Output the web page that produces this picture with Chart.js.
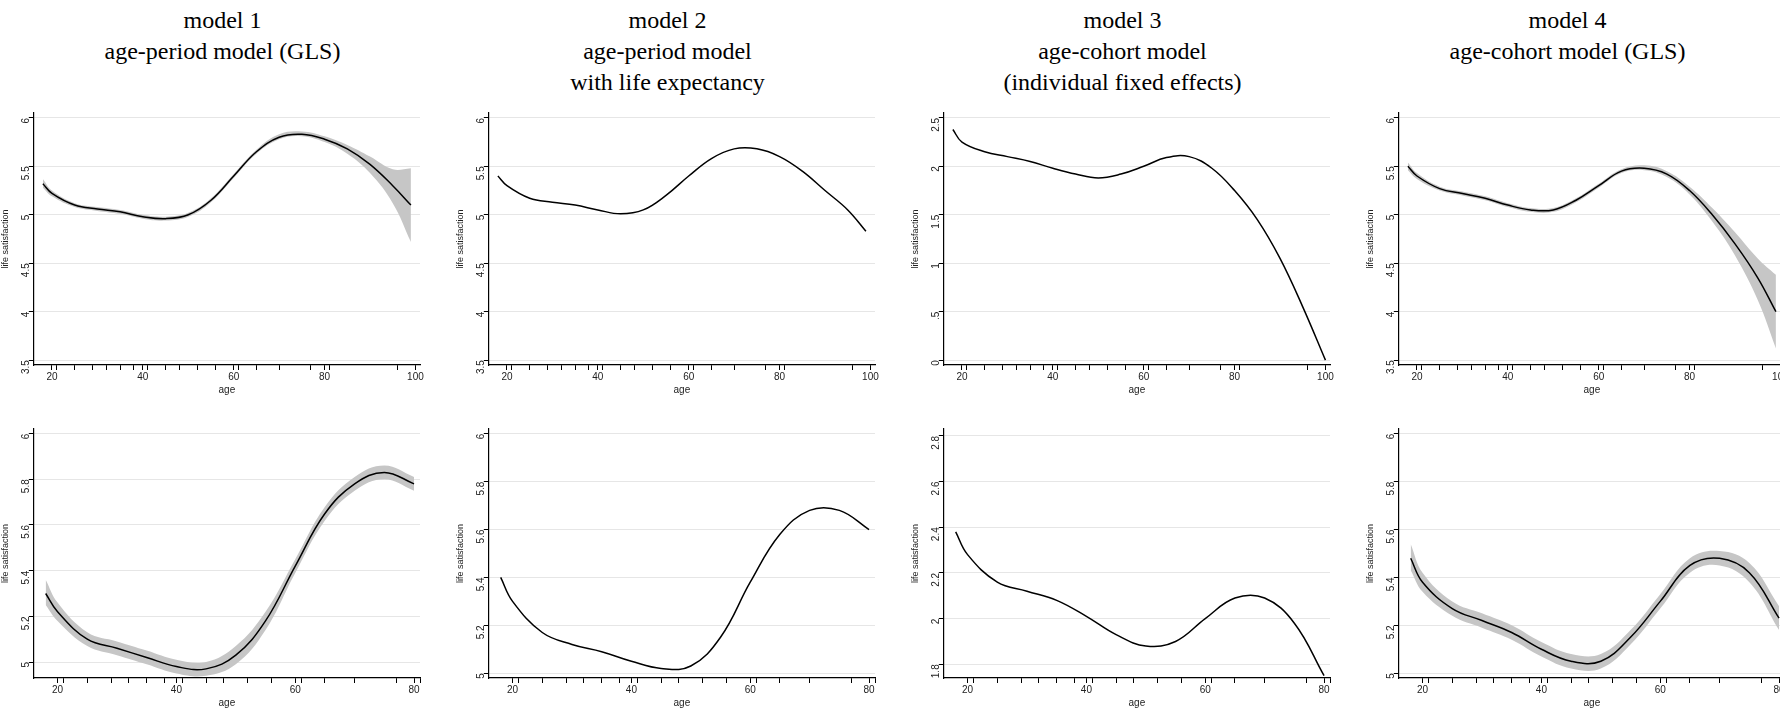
<!DOCTYPE html>
<html><head><meta charset="utf-8">
<script src="https://cdn.jsdelivr.net/npm/chart.js@4/dist/chart.umd.min.js"></script>
<style>
body{margin:0;background:#fff;width:1780px;height:709px;position:relative;overflow:hidden}
.title{position:absolute;top:5px;width:445px;text-align:center;font-family:"Liberation Serif",serif;font-size:24px;line-height:31px;color:#000}
.box{position:absolute;width:445px}
</style></head><body>
<div class="title" style="left:0">model 1<br>age-period model (GLS)</div>
<div class="title" style="left:445px">model 2<br>age-period model<br>with life expectancy</div>
<div class="title" style="left:900px">model 3<br>age-cohort model<br>(individual fixed effects)</div>
<div class="title" style="left:1345px">model 4<br>age-cohort model (GLS)</div>
<div class="box" style="left:0;top:104px;height:292px"><canvas id="c1"></canvas></div>
<div class="box" style="left:455px;top:104px;height:292px"><canvas id="c2"></canvas></div>
<div class="box" style="left:910px;top:104px;height:292px"><canvas id="c3"></canvas></div>
<div class="box" style="left:1365px;top:104px;height:292px"><canvas id="c4"></canvas></div>
<div class="box" style="left:0;top:420px;height:289px"><canvas id="c5"></canvas></div>
<div class="box" style="left:455px;top:420px;height:289px"><canvas id="c6"></canvas></div>
<div class="box" style="left:910px;top:420px;height:289px"><canvas id="c7"></canvas></div>
<div class="box" style="left:1365px;top:420px;height:289px"><canvas id="c8"></canvas></div>
<script>
// ages
const agesLong = [18, 20, 25, 30, 35, 40, 45, 50, 55, 60, 65, 70, 75, 80, 85, 90, 95, 99];
const agesLong3 = [18, 20, 25, 30, 35, 40, 45, 50, 55, 60, 65, 70, 75, 80, 85, 90, 95, 100];
const agesShort = [18, 20, 25, 30, 35, 40, 45, 50, 55, 60, 65, 70, 75, 80];
const labelAges = [20, 40, 60, 80, 100];
const rugAges = [21, 25, 29, 32, 35, 38, 41, 45, 48, 52, 56, 61, 65, 70, 77, 81, 96];

// top row
const m1Top = [5.32, 5.22, 5.1, 5.06, 5.03, 4.98, 4.96, 5.0, 5.15, 5.4, 5.65, 5.8, 5.83, 5.78, 5.68, 5.52, 5.3, 5.1];
const m1TopLo = [5.28, 5.19, 5.08, 5.04, 5.01, 4.96, 4.94, 4.98, 5.13, 5.38, 5.63, 5.78, 5.81, 5.75, 5.63, 5.43, 5.12, 4.72];
const m1TopHi = [5.37, 5.25, 5.12, 5.08, 5.05, 5.0, 4.98, 5.02, 5.17, 5.42, 5.67, 5.83, 5.86, 5.81, 5.72, 5.6, 5.47, 5.48];
const m2Top = [5.4, 5.3, 5.17, 5.13, 5.1, 5.05, 5.01, 5.05, 5.2, 5.4, 5.58, 5.68, 5.68, 5.6, 5.45, 5.25, 5.05, 4.83];
const m3Top = [2.38, 2.25, 2.15, 2.1, 2.05, 1.98, 1.92, 1.88, 1.92, 2.0, 2.09, 2.1, 1.98, 1.75, 1.45, 1.05, 0.55, 0];
const m4Top = [5.5, 5.4, 5.27, 5.22, 5.17, 5.1, 5.05, 5.05, 5.15, 5.3, 5.45, 5.48, 5.42, 5.25, 5.0, 4.7, 4.35, 4.0];
const m4TopLo = [5.46, 5.37, 5.25, 5.2, 5.15, 5.08, 5.03, 5.03, 5.13, 5.28, 5.43, 5.46, 5.39, 5.21, 4.93, 4.58, 4.12, 3.62];
const m4TopHi = [5.54, 5.43, 5.29, 5.24, 5.19, 5.12, 5.07, 5.07, 5.17, 5.32, 5.47, 5.51, 5.45, 5.29, 5.07, 4.82, 4.55, 4.38];

// bottom row
const m1Bot = [5.3, 5.22, 5.1, 5.06, 5.02, 4.98, 4.97, 5.03, 5.18, 5.42, 5.65, 5.78, 5.83, 5.78];
const m1BotLo = [5.25, 5.18, 5.07, 5.03, 4.99, 4.95, 4.94, 4.99, 5.14, 5.39, 5.62, 5.75, 5.8, 5.75];
const m1BotHi = [5.36, 5.26, 5.13, 5.09, 5.05, 5.01, 5.0, 5.07, 5.22, 5.45, 5.68, 5.81, 5.86, 5.81];
const m2Bot = [5.4, 5.3, 5.17, 5.12, 5.09, 5.05, 5.02, 5.03, 5.15, 5.38, 5.58, 5.68, 5.68, 5.6];
const m3Bot = [2.38, 2.28, 2.16, 2.12, 2.08, 2.01, 1.93, 1.88, 1.9, 2.0, 2.09, 2.09, 1.98, 1.75];
const m4Bot = [5.48, 5.38, 5.27, 5.22, 5.17, 5.1, 5.05, 5.05, 5.15, 5.3, 5.45, 5.48, 5.42, 5.23];
const m4BotLo = [5.43, 5.34, 5.24, 5.19, 5.14, 5.07, 5.02, 5.02, 5.12, 5.27, 5.42, 5.45, 5.38, 5.18];
const m4BotHi = [5.54, 5.42, 5.3, 5.25, 5.2, 5.13, 5.08, 5.08, 5.18, 5.33, 5.48, 5.51, 5.46, 5.28];

const fmt = v => String(+v.toFixed(1)).replace(/^0\./, '.');

function pts(xs, ys) { return xs.map((x, i) => ({x: x, y: ys[i]})); }

function makeChart(id, xs, ys, lo, hi, xMax, yMin, yMax, yTicks) {
    const datasets = [];
    if (lo) {
        datasets.push({data: pts(xs, lo), borderWidth: 0, pointRadius: 0, fill: false, tension: 0.4, order: 2});
        datasets.push({data: pts(xs, hi), borderWidth: 0, pointRadius: 0, fill: '-1', backgroundColor: '#c6c6c6', tension: 0.4, order: 2});
    }
    datasets.push({data: pts(xs, ys), borderColor: '#000', borderWidth: 1.5, pointRadius: 0, fill: false, tension: 0.4, order: 0});
    new Chart(document.getElementById(id), {
        type: 'line',
        data: {datasets: datasets},
        options: {
            animation: false, responsive: true, maintainAspectRatio: false,
            layout: {padding: {right: 25, top: 0}},
            plugins: {legend: {display: false}, tooltip: {enabled: false}},
            scales: {
                x: {
                    type: 'linear', min: 16, max: xMax,
                    afterBuildTicks: s => {
                        const all = labelAges.concat(rugAges).filter(v => v <= xMax).sort((a, b) => a - b);
                        s.ticks = all.map(v => ({value: v}));
                    },
                    grid: {drawOnChartArea: false, drawTicks: true, tickLength: 5, color: '#000'},
                    border: {color: '#000', width: 1.2},
                    ticks: {color: '#222', font: {family: 'Liberation Sans', size: 10}, maxRotation: 0, padding: 1, autoSkip: false,
                        callback: v => labelAges.includes(v) ? String(v) : ''},
                    title: {display: true, text: 'age', color: '#222', font: {family: 'Liberation Sans', size: 10}, padding: 0}
                },
                y: {
                    min: yMin, max: yMax,
                    afterBuildTicks: s => { s.ticks = yTicks.map(v => ({value: v})); },
                    grid: {color: '#e6e6e6', lineWidth: 1, tickColor: '#000', tickLength: 5},
                    border: {color: '#000', width: 1.2},
                    ticks: {color: '#222', font: {family: 'Liberation Sans', size: 10}, minRotation: 90, maxRotation: 90, padding: 3, callback: v => fmt(v)},
                    title: {display: true, text: 'life satisfaction', color: '#222', font: {family: 'Liberation Sans', size: 9}, padding: 0}
                }
            }
        }
    });
}

const tTop = [3.5, 4, 4.5, 5, 5.5, 6];
makeChart('c1', agesLong, m1Top, m1TopLo, m1TopHi, 101, 3.45, 6.05, tTop);
makeChart('c2', agesLong, m2Top, null, null, 101, 3.45, 6.05, tTop);
makeChart('c3', agesLong3, m3Top, null, null, 101, -0.05, 2.55, [0, 0.5, 1, 1.5, 2, 2.5]);
makeChart('c4', agesLong, m4Top, m4TopLo, m4TopHi, 101, 3.45, 6.05, tTop);
const tBot = [5, 5.2, 5.4, 5.6, 5.8, 6];
makeChart('c5', agesShort, m1Bot, m1BotLo, m1BotHi, 81, 4.93, 6.02, tBot);
makeChart('c6', agesShort, m2Bot, null, null, 81, 4.98, 6.02, tBot);
makeChart('c7', agesShort, m3Bot, null, null, 81, 1.74, 2.83, [1.8, 2, 2.2, 2.4, 2.6, 2.8]);
makeChart('c8', agesShort, m4Bot, m4BotLo, m4BotHi, 81, 4.98, 6.02, tBot);
</script>
</body></html>
